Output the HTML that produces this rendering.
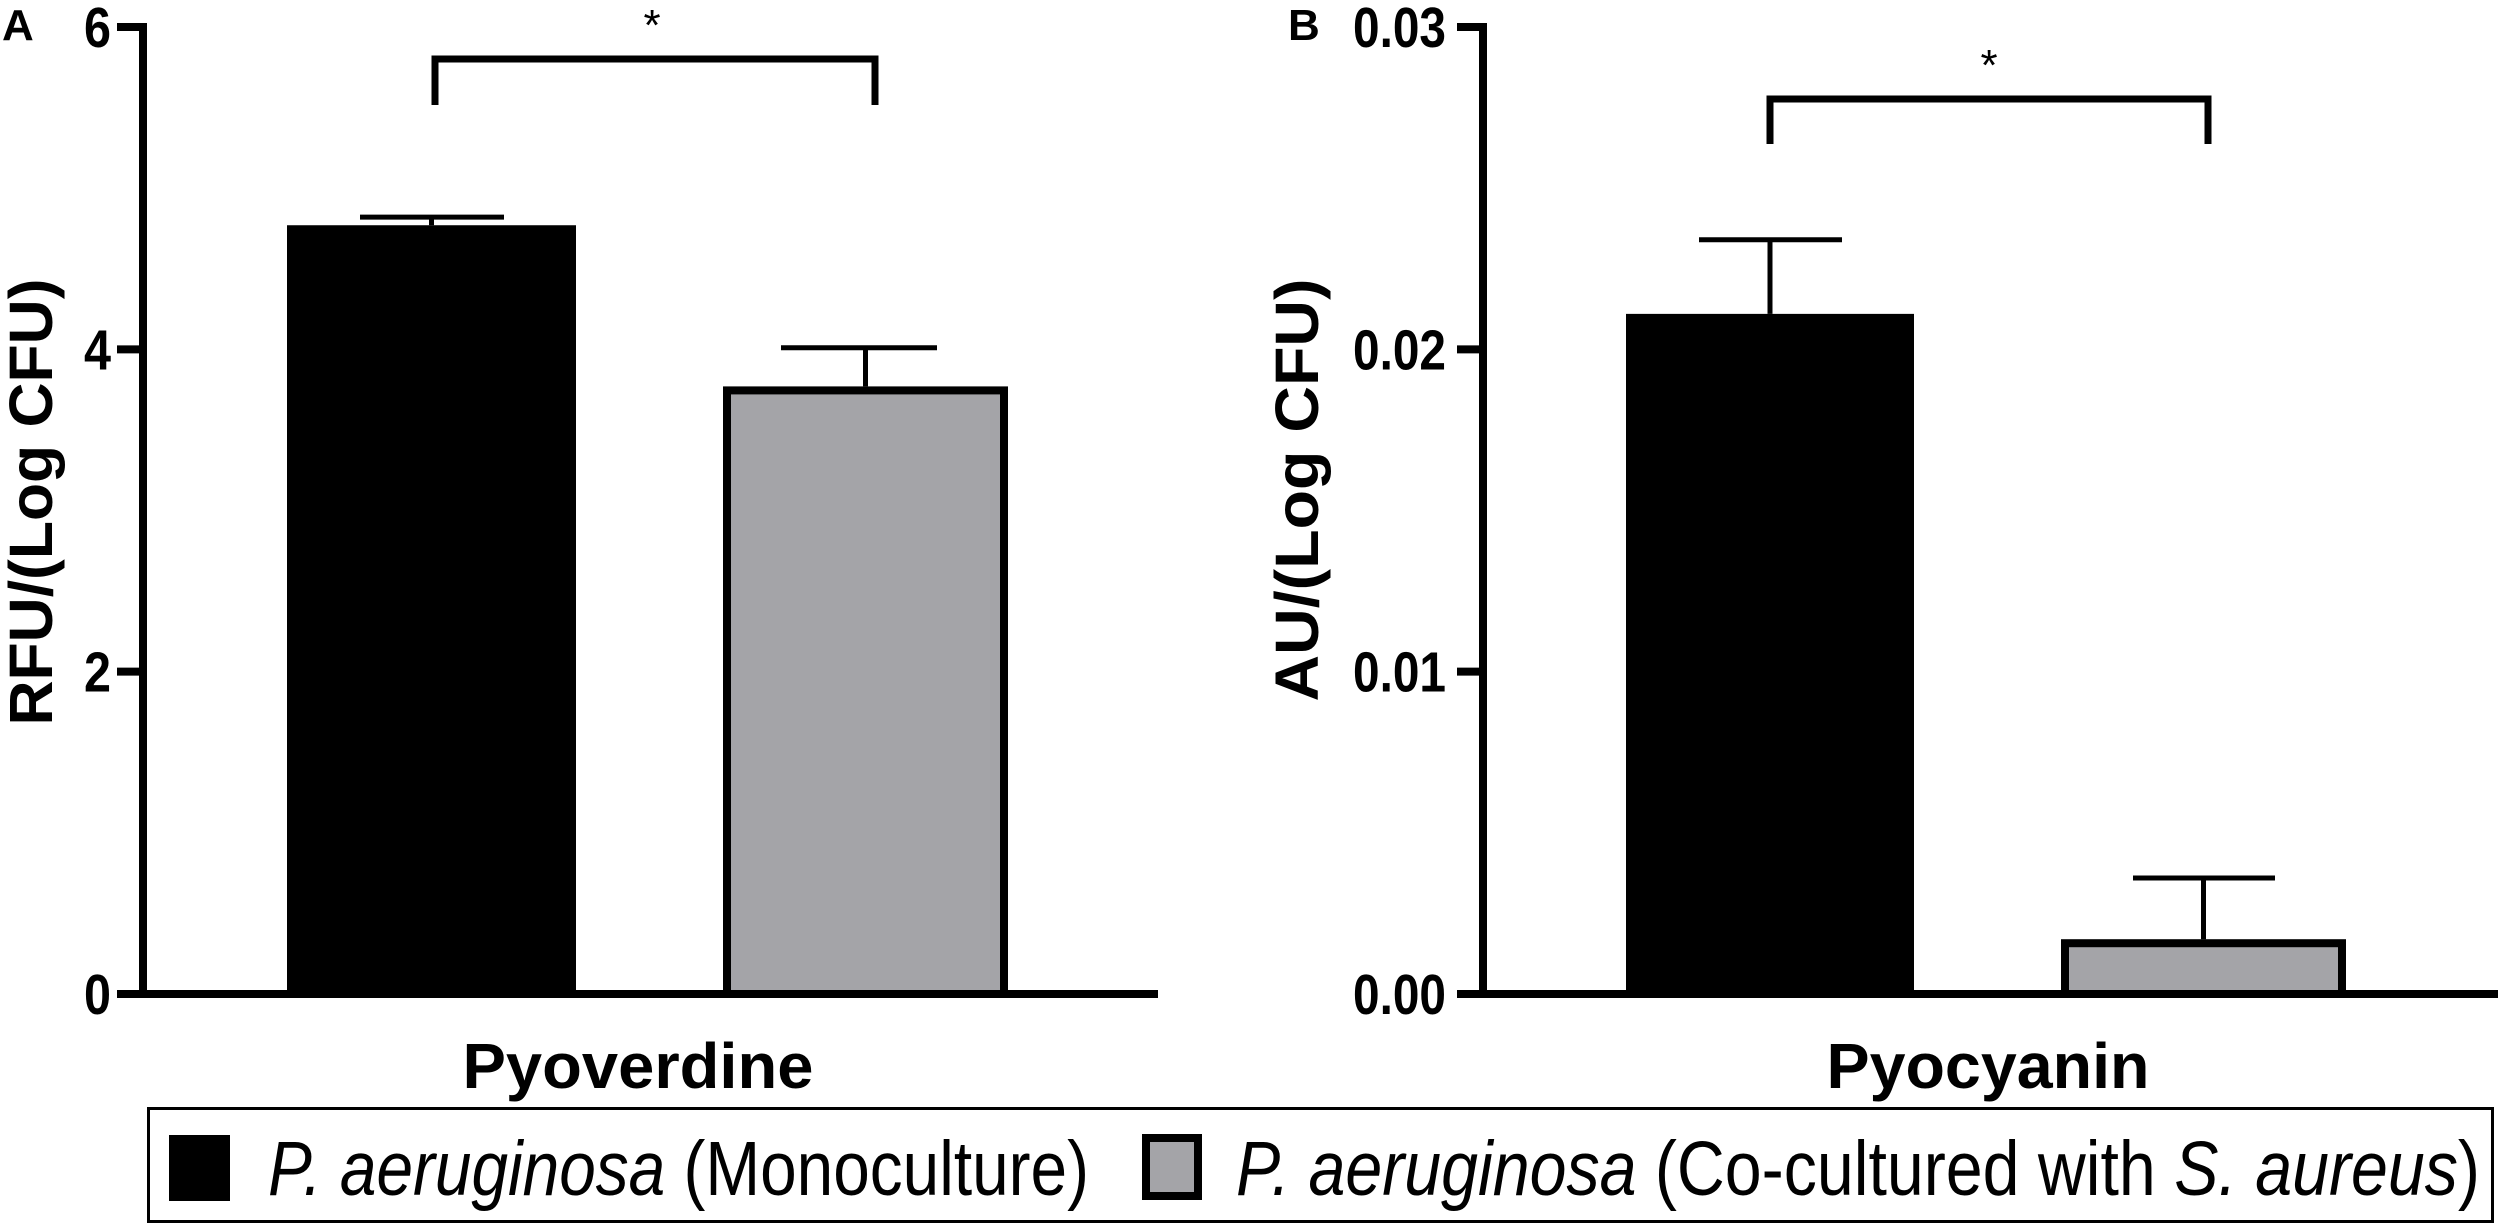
<!DOCTYPE html>
<html><head><meta charset="utf-8"><style>
html,body{margin:0;padding:0;background:#fff;width:2500px;height:1225px;overflow:hidden}
svg{display:block;font-family:"Liberation Sans",sans-serif}
</style></head><body>
<svg id="chart" width="2500" height="1225" viewBox="0 0 2500 1225" xmlns="http://www.w3.org/2000/svg"></svg>
<script>
const categories = ["Monoculture", "Co-cultured"];
const pyoverdineValues = [4.77, 3.77];
const pyoverdineErrors = [0.05, 0.24];
const pyocyaninValues = [0.0211, 0.0017];
const pyocyaninErrors = [0.0023, 0.0019];
const ticksA = [0, 2, 4, 6];
const tickLabelsA = ["0", "2", "4", "6"];
const ticksB = [0, 0.01, 0.02, 0.03];
const tickLabelsB = ["0.00", "0.01", "0.02", "0.03"];

const NS = "http://www.w3.org/2000/svg";
const svg = document.getElementById("chart");
function mk(tag, attrs, parent) {
  const e = document.createElementNS(NS, tag);
  for (const k in attrs) e.setAttribute(k, attrs[k]);
  (parent || svg).appendChild(e);
  return e;
}
const Y0 = 994, YTOP = 27;
const fills = ["#000", "#a4a4a8"];

const panels = [
  {name:"pyoverdine", axisX:143, xEnd:1158, max:6, ticks:ticksA, labels:tickLabelsA, vals:pyoverdineValues, errs:pyoverdineErrors,
   bars:[[287,576],[723,1008]], caps:[[360,504],[781,937]], bracket:[435,875,59,105], star:652, starY:40,
   letter:"A", letterX:2, labelRight:111, labelW:[27,27,27,27],
   title:"RFU/(Log CFU)", titleX:52, titleY:502, titleW:447,
   xlabel:"Pyoverdine", xlabelX:638, xlabelW:351},
  {name:"pyocyanin", axisX:1483, xEnd:2498, max:0.03, ticks:ticksB, labels:tickLabelsB, vals:pyocyaninValues, errs:pyocyaninErrors,
   bars:[[1626,1914],[2061,2346]], caps:[[1699,1842],[2133,2275]], bracket:[1770,2208,99,144], star:1989, starY:80,
   letter:"B", letterX:1288, labelRight:1446, labelW:[93,93,93,93],
   title:"AU/(Log CFU)", titleX:1318, titleY:490, titleW:423,
   xlabel:"Pyocyanin", xlabelX:1988, xlabelW:323}
];

panels.forEach(p => {
  const g = mk("g", {});
  
  
  const y = v => Y0 - (v / p.max) * (Y0 - YTOP);

  // bars
  p.vals.forEach((v, i) => {
    const [x0, x1] = p.bars[i];
    const isGray = i === 1;
    const r = mk("rect", isGray ? {x:x0+4, y:y(v)+4, width:x1-x0-8, height:Y0-y(v)-4, fill:fills[i], stroke:"#000", "stroke-width":8}
                               : {x:x0, y:y(v), width:x1-x0, height:Y0-y(v), fill:fills[i]}, g);
    
    
    const cx = (x0 + x1) / 2;
    const top = y(v + p.errs[i]);
    const el = mk("path", {d:`M${cx} ${y(v)} V${top} M${p.caps[i][0]} ${top} H${p.caps[i][1]}`, stroke:"#000", "stroke-width":5, fill:"none"}, g);
    
    
  });

  // axes
  const ax = mk("path", {d:`M${p.axisX} ${YTOP-4} V${Y0+4} M${p.axisX-4} ${Y0} H${p.xEnd}`, stroke:"#000", "stroke-width":8, fill:"none"}, g);
  
  
  p.ticks.forEach((t, i) => {
    const ty = y(t);
    const tk = mk("line", {x1:p.axisX-26, x2:p.axisX, y1:ty, y2:ty, stroke:"#000", "stroke-width":8}, g);
    
    
    const tl = mk("text", {x:p.labelRight, y:ty+20, "text-anchor":"end", "font-size":57, "font-weight":"bold", textLength:p.labelW[i], lengthAdjust:"spacingAndGlyphs"}, g);
    tl.textContent = p.labels[i];
    
    
  });

  // bracket
  const [bx0, bx1, by, byb] = p.bracket;
  const br = mk("path", {d:`M${bx0} ${byb} V${by} H${bx1} V${byb}`, stroke:"#000", "stroke-width":7, fill:"none"}, g);
  
  
  const st = mk("text", {x:p.star, y:p.starY, "text-anchor":"middle", "font-size":44}, g);
  st.textContent = "*";
  
  

  const lt = mk("text", {x:p.letterX, y:40, "font-size":44, "font-weight":"bold"}, g);
  lt.textContent = p.letter;
  
  

  const yt = mk("text", {x:0, y:0, "text-anchor":"middle", "font-size":61, "font-weight":"bold", textLength:p.titleW, lengthAdjust:"spacingAndGlyphs",
    transform:`translate(${p.titleX},${p.titleY}) rotate(-90)`}, g);
  yt.textContent = p.title;
  
  

  const xt = mk("text", {x:p.xlabelX, y:1088, "text-anchor":"middle", "font-size":64, "font-weight":"bold", textLength:p.xlabelW, lengthAdjust:"spacingAndGlyphs"}, g);
  xt.textContent = p.xlabel;
  
  
});

// legend
const lg = mk("g", {});


const box = mk("rect", {x:148.5, y:1108.5, width:2344, height:113, fill:"#fff", stroke:"#000", "stroke-width":3}, lg);


const sw1 = mk("rect", {x:169, y:1135, width:61, height:66, fill:"#000"}, lg);


const sw2 = mk("rect", {x:1146, y:1138, width:52, height:58, fill:"#a4a4a8", stroke:"#000", "stroke-width":8}, lg);


const t1 = mk("text", {x:268, y:1195, "font-size":77, textLength:821, lengthAdjust:"spacingAndGlyphs"}, lg);
t1.innerHTML = '<tspan font-style="italic">P. aeruginosa</tspan> (Monoculture)';


const t2 = mk("text", {x:1236, y:1195, "font-size":77, textLength:1244, lengthAdjust:"spacingAndGlyphs"}, lg);
t2.innerHTML = '<tspan font-style="italic">P. aeruginosa</tspan> (Co-cultured with <tspan font-style="italic">S. aureus</tspan>)';


</script>
</body></html>
